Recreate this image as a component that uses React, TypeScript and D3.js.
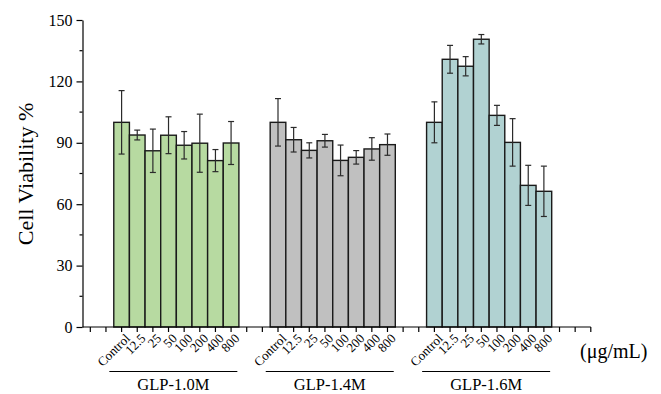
import React, { useEffect, useRef } from 'react';
import * as d3 from 'd3';

const concentrations = ['Control', '12.5', '25', '50', '100', '200', '400', '800'];
const groups = ['GLP-1.0M', 'GLP-1.4M', 'GLP-1.6M'];
const groupColors = ['#b7daa1', '#c0c0c0', '#b1d2d2'];

// mean viability per concentration
const means10 = [100, 93.8, 86.1, 93.7, 88.8, 89.8, 81.3, 89.9];
const means14 = [100, 91.5, 86.3, 91.0, 81.4, 82.9, 87.0, 89.1];
const means16 = [100, 130.8, 127.4, 140.6, 103.4, 90.2, 69.2, 66.3];
// standard deviations
const sd10 = [15.5, 2.4, 10.6, 9.0, 6.7, 14.2, 5.4, 10.5];
const sd14 = [11.6, 6.0, 3.7, 3.1, 7.5, 3.3, 5.5, 5.2];
const sd16 = [10.0, 6.8, 4.7, 2.3, 4.9, 11.6, 9.8, 12.3];

const yTicks = [0, 30, 60, 90, 120, 150];
const unitLabel = '(μg/mL)';
const yLabel = 'Cell Viability %';

const App: React.FC = () => {
  const svgRef = useRef<SVGSVGElement>(null);

  useEffect(() => {
    if (!svgRef.current) return;
    const width = 661;
    const height = 394;
    const svg = d3.select(svgRef.current);
    svg.selectAll('*').remove();

    const font = '"Liberation Serif", "Times New Roman", serif';
    const nSlots = 33;
    const x0 = 82.5;
    const slotW = 15.64;

    const x = d3.scaleBand<number>()
      .domain(d3.range(nSlots))
      .range([x0, x0 + nSlots * slotW])
      .padding(0);

    const y = d3.scaleLinear().domain([0, 150]).range([327, 20]);

    const allMeans = [means10, means14, means16];
    const allSd = [sd10, sd14, sd16];

    const rows: any[] = [];
    groups.forEach((g, gi) => {
      concentrations.forEach((c, ci) => {
        rows.push({
          group: gi,
          label: c,
          slot: 2 + gi * 10 + ci,
          mean: allMeans[gi][ci],
          sd: allSd[gi][ci],
        });
      });
    });

    // bars
    svg.append('g')
      .selectAll('rect')
      .data(rows)
      .enter()
      .append('rect')
      .attr('x', (d: any) => x(d.slot)!)
      .attr('y', (d: any) => y(d.mean))
      .attr('width', x.bandwidth())
      .attr('height', (d: any) => y(0) - y(d.mean))
      .attr('fill', (d: any) => groupColors[d.group])
      .attr('stroke', '#1a1a1a')
      .attr('stroke-width', 1.4);

    // error bars
    const eb = svg.append('g').attr('stroke', '#2b2b2b').attr('stroke-width', 1.2);
    rows.forEach((d: any) => {
      const cx = x(d.slot)! + x.bandwidth() / 2;
      eb.append('line')
        .attr('x1', cx).attr('x2', cx)
        .attr('y1', y(d.mean + d.sd)).attr('y2', y(d.mean - d.sd));
      [d.mean + d.sd, d.mean - d.sd].forEach((v) => {
        eb.append('line')
          .attr('x1', cx - 3).attr('x2', cx + 3)
          .attr('y1', y(v)).attr('y2', y(v));
      });
    });

    // y axis
    const yAxis = svg.append('g')
      .attr('transform', `translate(${x0},0)`)
      .call(d3.axisLeft(y).tickValues(yTicks).tickSize(6).tickSizeOuter(0).tickPadding(4));
    yAxis.select('.domain').attr('stroke', '#000').attr('stroke-width', 1.2);
    yAxis.selectAll('.tick line').attr('stroke-width', 1.2);
    yAxis.selectAll('text').attr('font-family', font).attr('font-size', 16).attr('fill', '#000');
    // minor y ticks
    svg.append('g')
      .selectAll('line')
      .data(d3.range(15, 150, 30))
      .enter()
      .append('line')
      .attr('x1', x0 - 3).attr('x2', x0)
      .attr('y1', (d: number) => y(d)).attr('y2', (d: number) => y(d))
      .attr('stroke', '#000').attr('stroke-width', 1.2);

    // x axis
    const xEnd = x(nSlots - 1)! + x.bandwidth() / 2;
    svg.append('line')
      .attr('x1', x0).attr('x2', xEnd)
      .attr('y1', y(0)).attr('y2', y(0))
      .attr('stroke', '#000').attr('stroke-width', 1.2);
    svg.append('g')
      .selectAll('line')
      .data(d3.range(nSlots))
      .enter()
      .append('line')
      .attr('x1', (d: number) => x(d)! + x.bandwidth() / 2)
      .attr('x2', (d: number) => x(d)! + x.bandwidth() / 2)
      .attr('y1', y(0)).attr('y2', y(0) + 5)
      .attr('stroke', '#000').attr('stroke-width', 1.2);

    // category labels
    svg.append('g')
      .selectAll('text')
      .data(rows)
      .enter()
      .append('text')
      .attr('transform', (d: any) => `translate(${x(d.slot)! + x.bandwidth() / 2 + 6},${y(0) + 9}) rotate(-45)`)
      .attr('text-anchor', 'end')
      .attr('dy', '0.35em')
      .attr('font-family', font)
      .attr('font-size', 13)
      .attr('fill', '#000')
      .text((d: any) => d.label);

    // group underline + name
    groups.forEach((g, gi) => {
      const s0 = x(2 + gi * 10)!;
      const s1 = x(2 + gi * 10 + 7)! + x.bandwidth();
      const cx = (s0 + s1) / 2 - 3;
      svg.append('line')
        .attr('x1', cx - 64).attr('x2', cx + 64)
        .attr('y1', 371.5).attr('y2', 371.5)
        .attr('stroke', '#000').attr('stroke-width', 1.2);
      svg.append('text')
        .attr('x', cx).attr('y', 390)
        .attr('text-anchor', 'middle')
        .attr('font-family', font)
        .attr('font-size', 16.5)
        .attr('fill', '#000')
        .text(g);
    });

    svg.append('text')
      .attr('x', 580).attr('y', 358)
      .attr('font-family', font)
      .attr('font-size', 20)
      .attr('fill', '#000')
      .text(unitLabel);

    svg.append('text')
      .attr('transform', `translate(33,${174}) rotate(-90)`)
      .attr('text-anchor', 'middle')
      .attr('font-family', font)
      .attr('font-size', 22)
      .attr('fill', '#000')
      .text(yLabel);

    svg.attr('width', width).attr('height', height);
  }, []);

  return (
    <svg
      ref={svgRef}
      width={661}
      height={394}
      style={{ position: 'absolute', left: 0, top: 0, background: '#fff' }}
    />
  );
};

export default App;
